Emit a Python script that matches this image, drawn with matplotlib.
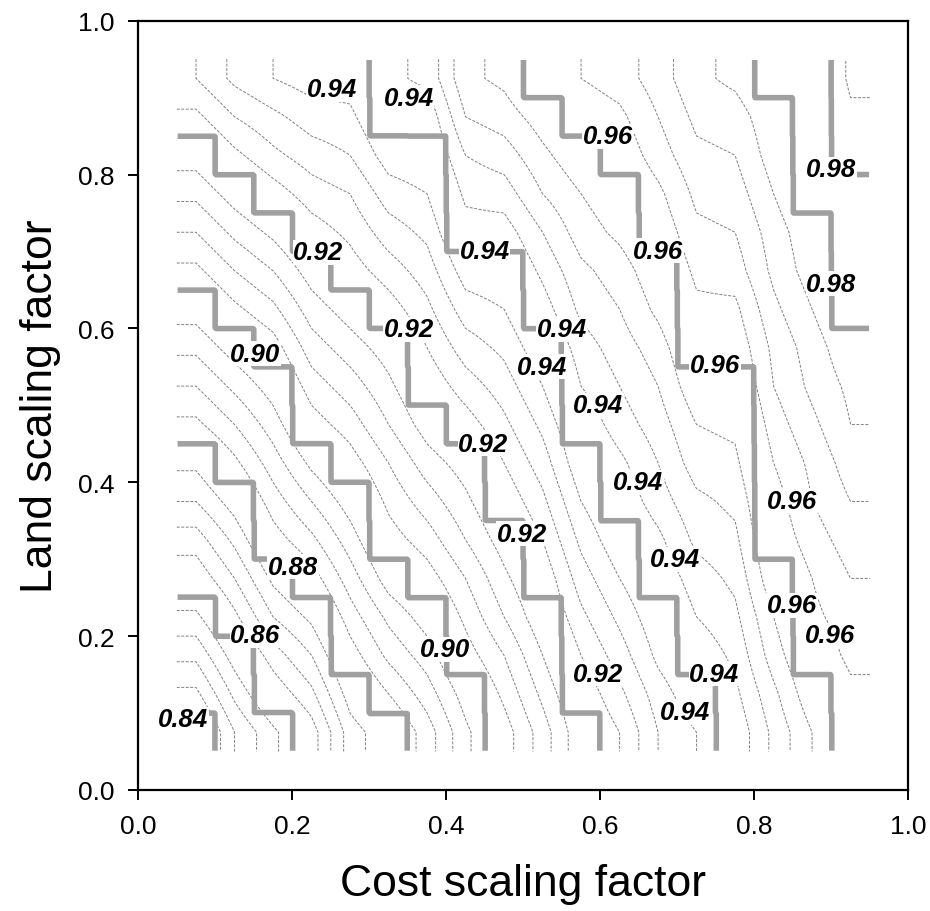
import numpy as np
import matplotlib
matplotlib.use('Agg')
import matplotlib.pyplot as plt

plt.rcParams['font.family'] = ['Liberation Sans', 'DejaVu Sans']
plt.rcParams['lines.dashed_pattern'] = (3.0, 1.6)

# ── Data: grid cells between scaling factors 0.05 ... 0.95 ────────────────────
cost_edges = np.round(np.arange(0.05, 0.951, 0.05), 2)
land_edges = np.round(np.arange(0.05, 0.951, 0.05), 2)

# rows = land cells (bottom -> top), columns = cost cells (left -> right)
efficiency = np.array([
    [.837, .848, .855, .862, .874, .879, .886, .895, .902, .910, .919, .924, .932, .936, .941, .949, .956, .961],
    [.843, .853, .861, .867, .878, .884, .890, .898, .905, .913, .921, .927, .934, .939, .943, .951, .959, .963],
    [.849, .858, .866, .872, .882, .889, .894, .902, .908, .916, .924, .930, .937, .941, .945, .954, .961, .965],
    [.855, .863, .872, .877, .886, .893, .898, .905, .912, .919, .927, .933, .939, .944, .947, .956, .963, .966],
    [.861, .868, .877, .882, .890, .898, .902, .908, .915, .921, .930, .936, .941, .946, .949, .959, .964, .968],
    [.866, .873, .882, .887, .894, .902, .906, .912, .918, .924, .933, .939, .943, .949, .951, .961, .966, .970],
    [.872, .878, .886, .892, .898, .905, .910, .915, .921, .927, .936, .941, .946, .951, .953, .962, .968, .972],
    [.877, .883, .890, .897, .902, .908, .914, .918, .924, .930, .939, .943, .948, .954, .955, .964, .969, .974],
    [.883, .888, .894, .902, .906, .912, .918, .922, .927, .933, .941, .946, .950, .956, .957, .966, .971, .976],
    [.888, .893, .898, .906, .910, .915, .921, .926, .930, .936, .944, .948, .952, .959, .959, .968, .973, .977],
    [.893, .898, .902, .910, .914, .918, .924, .930, .933, .939, .946, .950, .954, .961, .961, .969, .974, .979],
    [.898, .903, .907, .914, .918, .922, .927, .934, .936, .942, .949, .952, .957, .963, .963, .971, .976, .981],
    [.903, .908, .912, .918, .922, .926, .930, .938, .939, .945, .951, .954, .959, .965, .966, .973, .978, .982],
    [.908, .913, .917, .922, .925, .930, .933, .942, .942, .948, .954, .957, .961, .967, .968, .974, .979, .982],
    [.913, .918, .922, .926, .928, .934, .936, .945, .946, .952, .956, .959, .963, .969, .970, .976, .981, .981],
    [.918, .923, .927, .930, .932, .938, .939, .948, .950, .955, .959, .961, .966, .971, .972, .978, .982, .979],
    [.923, .928, .931, .934, .935, .941, .941, .952, .954, .958, .961, .963, .968, .973, .974, .979, .983, .977],
    [.928, .933, .936, .938, .938, .943, .945, .955, .957, .962, .964, .966, .970, .975, .977, .981, .983, .975],
])

major_levels = [0.84, 0.86, 0.88, 0.90, 0.92, 0.94, 0.96, 0.98]
minor_levels = [lv for lv in np.round(np.arange(0.824, 0.99, 0.004), 3)
                if int(round(lv * 1000)) % 20 != 0]

label_text = ['0.94', '0.94', '0.96', '0.98', '0.92', '0.94', '0.96', '0.98',
              '0.92', '0.94', '0.90', '0.94', '0.96', '0.94', '0.92', '0.94',
              '0.96', '0.92', '0.94', '0.88', '0.96', '0.96', '0.86', '0.90',
              '0.92', '0.94', '0.94', '0.84']
label_cost = [0.251, 0.351, 0.610, 0.900, 0.234, 0.450, 0.675, 0.900,
              0.351, 0.550, 0.152, 0.524, 0.749, 0.597, 0.448, 0.649,
              0.849, 0.498, 0.697, 0.201, 0.849, 0.898, 0.152, 0.398,
              0.597, 0.748, 0.710, 0.058]
label_land = [0.911, 0.900, 0.850, 0.807, 0.699, 0.701, 0.701, 0.658,
              0.599, 0.599, 0.567, 0.550, 0.552, 0.500, 0.450, 0.400,
              0.376, 0.333, 0.300, 0.290, 0.240, 0.201, 0.201, 0.183,
              0.151, 0.151, 0.101, 0.092]

# ── Fields for drawing ───────────────────────────────────────────────────────
n_sub = 24
cell = 0.05
n_cells = efficiency.shape[1]
xf = cost_edges[0] + (np.arange(n_cells * n_sub) + 0.5) * cell / n_sub
yf = land_edges[0] + (np.arange(efficiency.shape[0] * n_sub) + 0.5) * cell / n_sub
z_step = np.kron(efficiency, np.ones((n_sub, n_sub)))

cost_mid = (cost_edges[:-1] + cost_edges[1:]) / 2
land_mid = (land_edges[:-1] + land_edges[1:]) / 2
xs = np.linspace(cost_edges[0], cost_edges[-1], 361)
ys = np.linspace(land_edges[0], land_edges[-1], 361)
tmp = np.array([np.interp(xs, cost_mid, row) for row in efficiency])
z_smooth = np.array([np.interp(ys, land_mid, tmp[:, k]) for k in range(len(xs))]).T

# ── Figure ───────────────────────────────────────────────────────────────────
fig = plt.figure(figsize=(9.3, 9.12), dpi=100)
ax = fig.add_axes([0.1487, 0.1327, 0.828, 0.8435])

ax.contour(xs, ys, z_smooth, levels=minor_levels, colors='#808080',
           linewidths=0.7, linestyles='dashed')
ax.contour(xf, yf, z_step, levels=major_levels, colors='#a0a0a0',
           linewidths=4.0)

for txt, c, l in zip(label_text, label_cost, label_land):
    ax.text(c, l, txt, ha='center', va='center', fontsize=18.5,
            fontweight='bold', fontstyle='italic', color='black', zorder=5,
            bbox=dict(boxstyle='square,pad=0.02', facecolor='white',
                      edgecolor='none'))

ax.set_xlim(0, 1)
ax.set_ylim(0, 1)
ticks = [0.0, 0.2, 0.4, 0.6, 0.8, 1.0]
ax.set_xticks(ticks)
ax.set_yticks(ticks)
ax.set_xticklabels([f'{t:.1f}' for t in ticks])
ax.set_yticklabels([f'{t:.1f}' for t in ticks])
ax.tick_params(direction='out', length=7, width=1.4, labelsize=19, pad=10)
for sp in ax.spines.values():
    sp.set_linewidth(1.6)

ax.set_xlabel('Cost scaling factor', fontsize=32, labelpad=18)
ax.set_ylabel('Land scaling factor', fontsize=32, labelpad=12)

plt.savefig('out.png', dpi=100, facecolor='white')
plt.close()
